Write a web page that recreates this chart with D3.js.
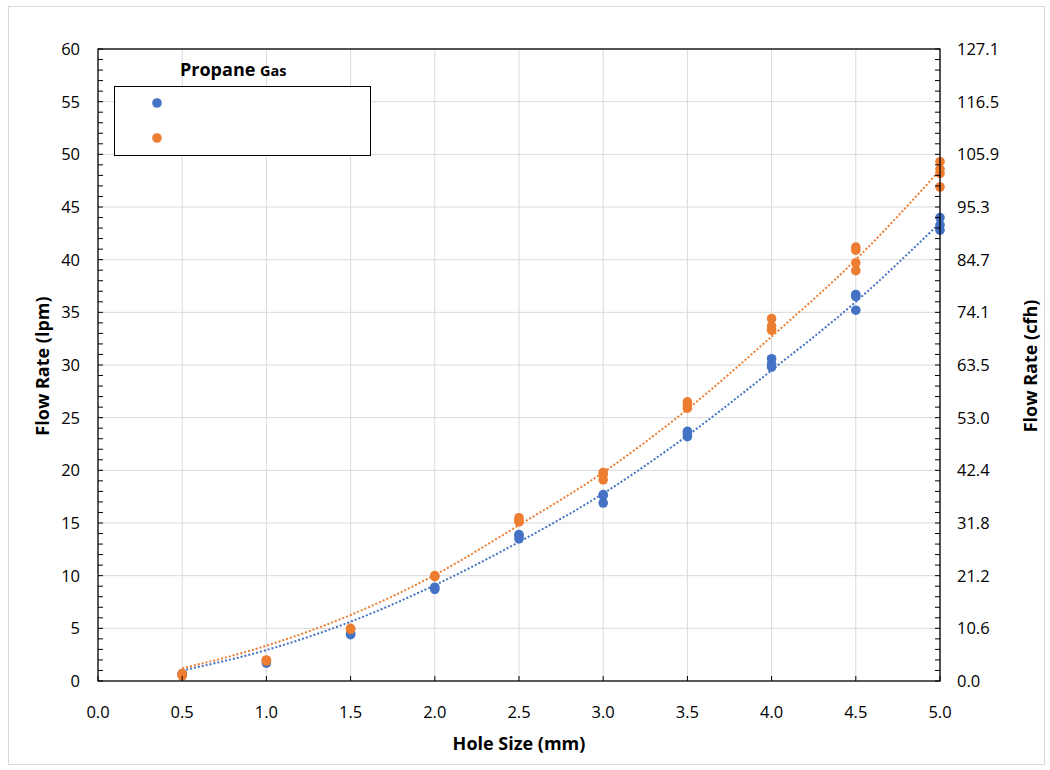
<!DOCTYPE html>
<html><head><meta charset="utf-8">
<script src="https://cdn.jsdelivr.net/npm/d3@7"></script>
<style>body{margin:0;background:#fff}svg{display:block}text{font-family:"Open Sans","Noto Sans",sans-serif}</style>
</head><body><svg id="c" width="1050" height="770"></svg>
<script>
const xTicks = [0,0.5,1,1.5,2,2.5,3,3.5,4,4.5,5];
const yTicks = [0,5,10,15,20,25,30,35,40,45,50,55,60];
const yRightLabels = ["0.0","10.6","21.2","31.8","42.4","53.0","63.5","74.1","84.7","95.3","105.9","116.5","127.1"];
const blueX = [0.5,0.5,1,1,1.5,1.5,2,2,2.5,2.5,2.5,3,3,3,3.5,3.5,3.5,4,4,4,4.5,4.5,4.5,5,5,5];
const blueY = [0.6,0.7,1.7,1.9,4.4,4.5,8.7,8.9,13.5,13.8,13.9,16.9,17.6,17.7,23.2,23.5,23.7,29.8,30.1,30.6,35.2,36.5,36.7,42.8,43.3,44.0];
const orangeX = [0.5,0.5,1,1,1.5,1.5,2,2,2.5,2.5,2.5,3,3,3,3.5,3.5,3.5,4,4,4,4.5,4.5,4.5,4.5,5,5,5,5];
const orangeY = [0.5,0.7,1.9,2.0,4.9,5.0,9.9,10.0,15.1,15.3,15.5,19.1,19.6,19.8,25.9,26.2,26.5,33.3,33.7,34.4,38.95,39.7,40.9,41.2,46.9,48.2,48.6,49.3];
// trendline values at each 0.5 mm
const trendX = [0.5,1,1.5,2,2.5,3,3.5,4,4.5,5];
const blueTrend = [1.0,2.94,5.63,9.1,13.2,17.8,23.3,29.5,36.0,43.5];
const orangeTrend = [1.2,3.35,6.27,10.06,14.8,19.8,25.8,32.7,40.0,48.5];

const svg = d3.select("#c");
const L=98, R=940, T=49, B=681;
const x = d3.scaleLinear().domain([0,5]).range([L,R]);
const y = d3.scaleLinear().domain([0,60]).range([B,T]);
const blue="#4472C4", orange="#ED7D31";

svg.append("rect").attr("x",8.5).attr("y",6.5).attr("width",1036).attr("height",758).attr("fill","#fff").attr("stroke","#d9d9d9");

// grid
svg.append("g").selectAll("line").data(xTicks.slice(1)).join("line")
  .attr("x1",d=>x(d)).attr("x2",d=>x(d)).attr("y1",T).attr("y2",B).attr("stroke","#d9d9d9");
svg.append("g").selectAll("line").data(yTicks.slice(1)).join("line")
  .attr("y1",d=>y(d)).attr("y2",d=>y(d)).attr("x1",L).attr("x2",R).attr("stroke","#d9d9d9");

function trend(vals,color){
  svg.append("path").datum(trendX.map((v,i)=>[v,vals[i]])).attr("fill","none").attr("stroke",color).attr("stroke-width",2)
    .attr("stroke-dasharray","2,2").attr("d",d3.line().curve(d3.curveMonotoneX).x(d=>x(d[0])).y(d=>y(d[1])));
}
trend(blueTrend,blue);
trend(orangeTrend,orange);

function pts(xs,ys,color){
  svg.append("g").selectAll("circle").data(xs.map((v,i)=>[v,ys[i]])).join("circle")
    .attr("cx",d=>x(d[0])).attr("cy",d=>y(d[1])).attr("r",4.8).attr("fill",color);
}
pts(blueX,blueY,blue);
pts(orangeX,orangeY,orange);

// axes box
svg.append("rect").attr("x",L).attr("y",T).attr("width",R-L).attr("height",B-T).attr("fill","none").attr("stroke","#000").attr("stroke-width",1.3);
const minor = d3.range(0,61,1);
svg.append("g").selectAll("line").data(minor).join("line")
  .attr("x1",L).attr("x2",L+5).attr("y1",d=>y(d)).attr("y2",d=>y(d)).attr("stroke","#000");
svg.append("g").selectAll("line").data(minor).join("line")
  .attr("x1",R).attr("x2",R-5).attr("y1",d=>y(d)).attr("y2",d=>y(d)).attr("stroke","#000");
svg.append("g").selectAll("line").data(xTicks).join("line")
  .attr("x1",d=>x(d)).attr("x2",d=>x(d)).attr("y1",B).attr("y2",B-5).attr("stroke","#000");

// labels
svg.append("g").selectAll("text").data(yTicks).join("text")
  .attr("x",80).attr("y",d=>y(d)+6).attr("text-anchor","end").attr("font-size",16.5).attr("fill","#000").text(d=>d);
svg.append("g").selectAll("text").data(yTicks).join("text")
  .attr("x",957).attr("y",d=>y(d)+6).attr("text-anchor","start").attr("font-size",16.5).attr("fill","#000").text((d,i)=>yRightLabels[i]);
svg.append("g").selectAll("text").data(xTicks).join("text")
  .attr("x",d=>x(d)).attr("y",718).attr("text-anchor","middle").attr("font-size",16.5).attr("fill","#000").text(d=>d.toFixed(1));

svg.append("text").attr("x",519).attr("y",750).attr("text-anchor","middle").attr("font-size",18).attr("font-weight","bold").text("Hole Size (mm)");
svg.append("text").attr("transform","translate(49,366) rotate(-90)").attr("text-anchor","middle").attr("font-size",18).attr("font-weight","bold").text("Flow Rate (lpm)");
svg.append("text").attr("transform","translate(1037,366) rotate(-90)").attr("text-anchor","middle").attr("font-size",18).attr("font-weight","bold").text("Flow Rate (cfh)");

// legend
svg.append("rect").attr("x",114.5).attr("y",86.5).attr("width",256).attr("height",69).attr("fill","#fff").attr("stroke","#000");
const lt = svg.append("text").attr("x",180).attr("y",76).attr("font-weight","bold");
lt.append("tspan").attr("font-size",18).text("Propane ");
lt.append("tspan").attr("font-size",14.5).text("Gas");
svg.append("circle").attr("cx",157).attr("cy",103).attr("r",4.8).attr("fill",blue);
svg.append("circle").attr("cx",157).attr("cy",138).attr("r",4.8).attr("fill",orange);
</script></body></html>
